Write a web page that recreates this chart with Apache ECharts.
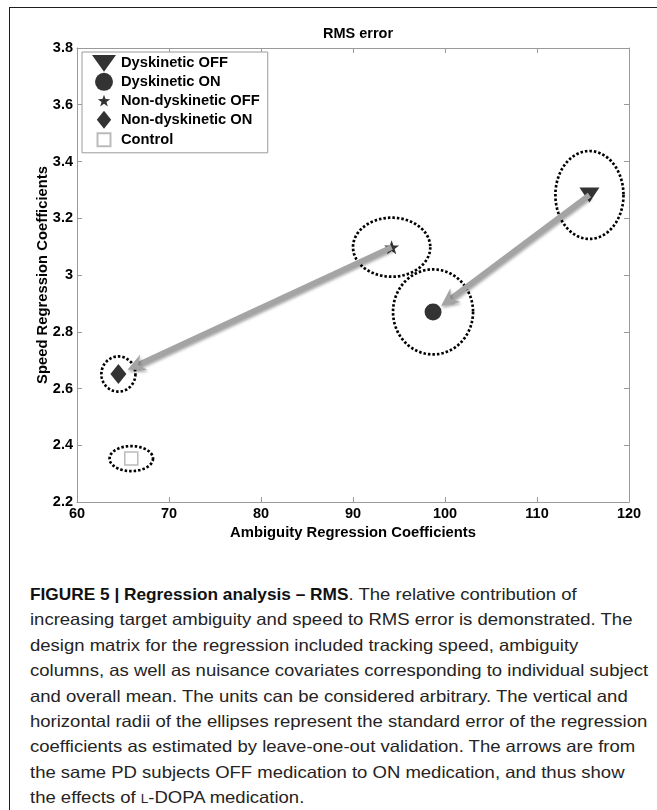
<!DOCTYPE html>
<html><head><meta charset="utf-8">
<script src="https://cdn.jsdelivr.net/npm/echarts@6/dist/echarts.min.js"></script>
<style>
html,body{margin:0;padding:0;background:#fff;}
#wrap{position:relative;width:657px;height:810px;overflow:hidden;background:#fff;}
#frame{position:absolute;left:9px;top:7px;width:720px;height:900px;border-left:1.5px solid #1e1e1e;border-top:1.5px solid #1e1e1e;}
#chart{position:absolute;left:0;top:0;width:657px;height:560px;}
#cap{position:absolute;left:30px;top:582px;font-family:'Liberation Sans',Arial,sans-serif;font-size:16.5px;line-height:25.4px;color:#252323;white-space:nowrap;transform-origin:0 0;}
#cap b{color:#111;display:inline-block;transform-origin:0 50%;}
#cap .line{display:block;}
.sc{font-variant:small-caps;}
</style></head>
<body>
<div id="wrap">
  <div id="frame"></div>
  <div id="chart"></div>
  <div id="cap">
    <span class="line"><b id="capBold">FIGURE 5 | Regression analysis – RMS</b>. The relative contribution of</span>
    <span class="line">increasing target ambiguity and speed to RMS error is demonstrated. The</span>
    <span class="line">design matrix for the regression included tracking speed, ambiguity</span>
    <span class="line">columns, as well as nuisance covariates corresponding to individual subject</span>
    <span class="line">and overall mean. The units can be considered arbitrary. The vertical and</span>
    <span class="line">horizontal radii of the ellipses represent the standard error of the regression</span>
    <span class="line">coefficients as estimated by leave-one-out validation. The arrows are from</span>
    <span class="line">the same PD subjects OFF medication to ON medication, and thus show</span>
    <span class="line">the effects of <span class="sc">l</span>-DOPA medication.</span>
  </div>
</div>
<script>
// ---- data ----
const groupNames   = ['Dyskinetic OFF', 'Dyskinetic ON', 'Non-dyskinetic OFF', 'Non-dyskinetic ON', 'Control'];
const ambiguity    = [115.7, 98.7, 94.2, 64.5, 65.9];      // x: Ambiguity Regression Coefficients
const speed        = [3.282, 2.87, 3.098, 2.651, 2.353];    // y: Speed Regression Coefficients
const ambiguityErr = [3.7, 4.35, 4.2, 1.85, 2.36];          // horizontal radii
const speedErr     = [0.155, 0.15, 0.104, 0.062, 0.044];    // vertical radii
const arrowFrom    = [0, 2];   // OFF medication
const arrowTo      = [1, 3];   // ON medication
const xTickRange   = {min: 60, max: 120, interval: 10};
const yTickRange   = {min: 2.2, max: 3.8, interval: 0.2};

// ---- symbols ----
function starPts(cx, cy, R, r) {
  const p = [];
  for (let i = 0; i < 10; i++) {
    const a = (-90 + i * 36) * Math.PI / 180;
    const rr = i % 2 ? r : R;
    p.push((cx + rr * Math.cos(a)).toFixed(2) + ',' + (cy + rr * Math.sin(a)).toFixed(2));
  }
  return 'M' + p.join('L') + 'Z';
}
const markerSymbols = ['path://M0,0L20,0L10,15Z', 'circle', 'path://' + starPts(100, 100, 100, 40),
                       'path://M8,0L16,10L8,20L0,10Z', 'rect'];
const markerSizes = [[20, 15], 17, [15, 14], [16, 20], 13];
const legendIcons = ['path://M0,0L20,0L10,14Z', 'circle',
                     'path://M0,0M200,200' + starPts(100, 104, 72, 29),
                     'path://M8,0L16,10L8,20L0,10Z',
                     'path://M0,0M18,18M2.5,2.5L15.5,2.5L15.5,15.5L2.5,15.5Z'];

const FONT = 'Liberation Sans';
const axisGray = '#9a9a9a';

const scatterSeries = groupNames.map((n, i) => ({
  type: 'scatter', name: n, xAxisIndex: 0, yAxisIndex: 0,
  data: [[ambiguity[i], speed[i]]],
  symbol: markerSymbols[i], symbolSize: markerSizes[i],
  itemStyle: i === 4 ? {color: '#fff', borderColor: '#aaaaaa', borderWidth: 1.5} : {color: '#000'},
  z: 3, silent: true
}));

const ellipseSeries = {
  type: 'custom', xAxisIndex: 0, yAxisIndex: 0, z: 2, silent: true,
  data: ambiguity.map((x, i) => [x, speed[i], ambiguityErr[i], speedErr[i]]),
  encode: {x: 0, y: 1},
  renderItem: function (params, api) {
    const cx = api.value(0), cy = api.value(1), ex = api.value(2), ey = api.value(3);
    const c = api.coord([cx, cy]);
    const rx = api.coord([cx + ex, cy])[0] - c[0];
    const ry = c[1] - api.coord([cx, cy + ey])[1];
    const pts = [];
    const N = 120;
    for (let k = 0; k < N; k++) {
      const t = k / N * Math.PI * 2;
      pts.push([c[0] + rx * Math.cos(t), c[1] + ry * Math.sin(t)]);
    }
    return {type: 'polygon', shape: {points: pts},
            style: {fill: 'none', stroke: '#000', lineWidth: 2.7, lineDash: [2.5, 2.0]}};
  }
};

const arrowSeries = {
  type: 'custom', xAxisIndex: 0, yAxisIndex: 0, z: 4, silent: true,
  data: arrowFrom.map((f, k) => [ambiguity[f], speed[f], ambiguity[arrowTo[k]], speed[arrowTo[k]]]),
  encode: {x: [0, 2], y: [1, 3]},
  renderItem: function (params, api) {
    const p1 = api.coord([api.value(0), api.value(1)]);
    const p2 = api.coord([api.value(2), api.value(3)]);
    const dx = p2[0] - p1[0], dy = p2[1] - p1[1];
    const L = Math.sqrt(dx * dx + dy * dy);
    const ux = dx / L, uy = dy / L, nx = -uy, ny = ux;
    const tip = [p2[0] - ux * 10, p2[1] - uy * 10];
    const headLen = 18, halfW = 8.5, notch = 6;
    const base = [tip[0] - ux * headLen, tip[1] - uy * headLen];
    const left = [base[0] + nx * halfW, base[1] + ny * halfW];
    const right = [base[0] - nx * halfW, base[1] - ny * halfW];
    const nt = [tip[0] - ux * (headLen - notch), tip[1] - uy * (headLen - notch)];
    const col = '#a4a4a4';
    const sh = {shadowBlur: 3, shadowColor: 'rgba(0,0,0,0.35)', shadowOffsetX: 1, shadowOffsetY: 2};
    return {type: 'group', children: [
      {type: 'line', shape: {x1: p1[0], y1: p1[1], x2: nt[0] + ux * 2, y2: nt[1] + uy * 2},
       style: Object.assign({stroke: col, lineWidth: 5.5, fill: null}, sh)},
      {type: 'polygon', shape: {points: [tip, left, nt, right]},
       style: Object.assign({fill: col, stroke: null}, sh)}
    ]};
  }
};

const baseAxis = (pos, show) => ({
  position: pos, type: 'value',
  axisLine: {show: true, onZero: false, lineStyle: {color: axisGray, width: 1}},
  axisTick: {show: true, inside: true, length: 5, lineStyle: {color: axisGray}},
  splitLine: {show: false},
  axisLabel: {show: show, color: '#000', fontFamily: FONT, fontWeight: 'bold', fontSize: 14.5, margin: 4}
});

const option = {
  animation: false,
  backgroundColor: 'transparent',
  title: {text: 'RMS error', left: 353, top: 21, textAlign: 'center',
          textStyle: {fontFamily: FONT, fontWeight: 'bold', fontSize: 14.5, color: '#000'}},
  grid: {left: 77, right: 28, top: 48, bottom: 58, containLabel: false},
  legend: {
    orient: 'vertical', left: 82, top: 52, selectedMode: false,
    data: groupNames.map((n, i) => ({name: n, icon: legendIcons[i]})),
    itemWidth: 24, itemHeight: 18, itemGap: 1, padding: [3, 8, 3, 10],
    borderColor: '#9a9a9a', borderWidth: 1, backgroundColor: '#fff',
    textStyle: {fontFamily: FONT, fontWeight: 'bold', fontSize: 14.7, color: '#000'}
  },
  xAxis: [
    Object.assign(baseAxis('bottom', true), xTickRange, {
      name: 'Ambiguity Regression Coefficients', nameLocation: 'middle', nameGap: 23,
      nameMoveOverlap: false,
      nameTextStyle: {fontFamily: FONT, fontWeight: 'bold', fontSize: 14.8, color: '#000'}}),
    Object.assign(baseAxis('top', false), xTickRange)
  ],
  yAxis: [
    Object.assign(baseAxis('left', true), yTickRange, {
      name: 'Speed Regression Coefficients', nameLocation: 'middle', nameGap: 27,
      nameMoveOverlap: false,
      nameTextStyle: {fontFamily: FONT, fontWeight: 'bold', fontSize: 14.8, color: '#000'}}),
    Object.assign(baseAxis('right', false), yTickRange)
  ],
  series: [ellipseSeries].concat(scatterSeries, [arrowSeries])
};

const chart = echarts.init(document.getElementById('chart'), null, {renderer: 'canvas'});
chart.setOption(option);

// fit caption lines to the column width of the original
(function () {
  const cap = document.getElementById('cap');
  const b = document.getElementById('capBold');
  const bw = b.offsetWidth;                 // layout width, no transform
  let maxW = 0;
  cap.querySelectorAll('.line').forEach(s => {
    s.style.display = 'inline-block';
    maxW = Math.max(maxW, s.offsetWidth);
    s.style.display = 'block';
  });
  if (maxW > 0 && bw > 0) {
    const sc = 618 / maxW;
    cap.style.transform = 'scaleX(' + sc.toFixed(4) + ')';
    const k = Math.min(1.2, 318 / (bw * sc));
    b.style.transform = 'scaleX(' + k.toFixed(4) + ')';
    b.style.marginRight = (-(1 - k) * bw).toFixed(2) + 'px';
  }
})();
</script>
</body></html>
